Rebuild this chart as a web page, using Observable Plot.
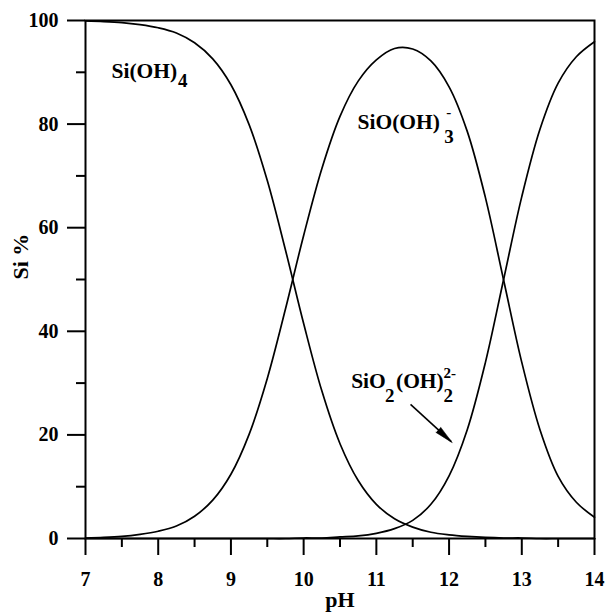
<!DOCTYPE html>
<html>
<head>
<meta charset="utf-8">
<script src="https://cdn.jsdelivr.net/npm/d3@7"></script>
<script src="https://cdn.jsdelivr.net/npm/@observablehq/plot@0.6"></script>
<style>
  html, body { margin: 0; padding: 0; background: #fff; }
  #chart { width: 606px; height: 612px; }
</style>
</head>
<body>
<div id="chart"></div>
<script>
// ---- data ----
const pH = [7, 7.25, 7.5, 7.75, 8, 8.25, 8.5, 8.75, 9, 9.25, 9.5, 9.75, 10, 10.25, 10.5, 10.75,
            11, 11.25, 11.5, 11.75, 12, 12.25, 12.5, 12.75, 13, 13.25, 13.5, 13.75, 14];
const siOH4 = [99.9, 99.8, 99.6, 99.2, 98.6, 97.6, 95.7, 92.6, 87.6, 79.9, 69.1, 55.7, 41.5, 28.5, 18.3, 11.2,
               6.6, 3.8, 2.2, 1.2, 0.7, 0.4, 0.2, 0.1, 0.1, 0, 0, 0, 0];
const siOOH3 = [0.1, 0.2, 0.4, 0.8, 1.4, 2.4, 4.3, 7.4, 12.4, 20.1, 30.9, 44.3, 58.5, 71.4, 81.5, 88.3,
                92.4, 94.6, 94.5, 92.2, 87.2, 78.6, 65.8, 49.9, 34.0, 21.0, 12.0, 7.0, 4.1];
const siO2OH2 = [0, 0, 0, 0, 0, 0, 0, 0, 0, 0, 0, 0, 0.1, 0.1, 0.3, 0.5,
                 1.0, 1.9, 3.5, 6.6, 12.1, 21.0, 34.0, 50.0, 66.0, 79.0, 87.9, 93.0, 95.9];
const speciesNames = ["Si(OH)4", "SiO(OH)3-", "SiO2(OH)2 2-"];
const xTicks = [7, 8, 9, 10, 11, 12, 13, 14];
const xMinorTicks = [7.5, 8.5, 9.5, 10.5, 11.5, 12.5, 13.5];
const yTicks = [0, 20, 40, 60, 80, 100];
const yMinorTicks = [10, 30, 50, 70, 90];

// annotation pieces (position in pH / Si % units)
const labelMain = [
  {text: "Si(OH)", x: 7.358, y: 90.23},
  {text: "SiO(OH)", x: 10.741, y: 80.33},
  {text: "SiO", x: 10.653, y: 30.29},
  {text: "(OH)", x: 11.270, y: 30.29}
];
const labelSub = [
  {text: "4", x: 8.272, y: 88.34},
  {text: "3", x: 11.935, y: 77.6},
  {text: "2", x: 11.119, y: 27.5},
  {text: "2", x: 11.925, y: 27.5}
];
const labelSup = [
  {text: "-", x: 11.962, y: 82.3},
  {text: "2-", x: 11.925, y: 31.9}
];
const arrowShaft = [{x1: 11.47, y1: 25.9, x2: 12.03, y2: 18.7}];
const arrowHead = [{x: 12.044, y: 18.5}];

// ---- build table ----
const seriesValues = [siOH4, siOOH3, siO2OH2];
const rows = speciesNames.flatMap((name, s) =>
  pH.map((x, i) => ({pH: x, pct: seriesValues[s][i], species: name})));

const font = "'Liberation Serif', 'Times New Roman', serif";

const chart = Plot.plot({
  width: 606,
  height: 612,
  marginLeft: 85,
  marginRight: 12,
  marginTop: 20,
  marginBottom: 74,
  style: {fontFamily: font, fontWeight: "bold", background: "#fff", color: "#000"},
  x: {domain: [7, 14]},
  y: {domain: [0, 100]},
  marks: [
    Plot.axisX({ticks: xTicks, tickSize: 17, tickPadding: 16, fontSize: 20, strokeWidth: 2, label: null, tickFormat: d => String(d)}),
    Plot.axisX({ticks: xMinorTicks, tickSize: 9, strokeWidth: 2, label: null, tickFormat: () => ""}),
    Plot.axisY({ticks: yTicks, tickSize: 18, tickPadding: 9, fontSize: 20, strokeWidth: 2, label: null, tickFormat: d => String(d)}),
    Plot.axisY({ticks: yMinorTicks, tickSize: 9, strokeWidth: 2, label: null, tickFormat: () => ""}),
    Plot.line(rows, {x: "pH", y: "pct", z: "species", stroke: "#000", strokeWidth: 1.7, curve: "catmull-rom"}),
    Plot.frame({stroke: "#000", strokeWidth: 2}),
    Plot.text(labelMain, {x: "x", y: "y", text: "text", textAnchor: "start", fontSize: 21.5, fill: "#000"}),
    Plot.text(labelSub, {x: "x", y: "y", text: "text", textAnchor: "start", fontSize: 19, fill: "#000"}),
    Plot.text(labelSup, {x: "x", y: "y", text: "text", textAnchor: "start", fontSize: 15, fill: "#000"}),
    Plot.link(arrowShaft, {x1: "x1", y1: "y1", x2: "x2", y2: "y2", stroke: "#000", strokeWidth: 1.6}),
    Plot.vector(arrowHead, {x: "x", y: "y", rotate: 132.6, length: 19, r: 3.5, shape: "spike", anchor: "end", fill: "#000", stroke: "#000", strokeWidth: 0.5}),
    Plot.text(["pH"], {frameAnchor: "bottom", dy: 68.6, fontSize: 22, fill: "#000"}),
    Plot.text(["Si %"], {frameAnchor: "left", dx: -64.5, rotate: -90, fontSize: 22, fill: "#000"})
  ]
});
document.getElementById("chart").appendChild(chart);
</script>
</body>
</html>
